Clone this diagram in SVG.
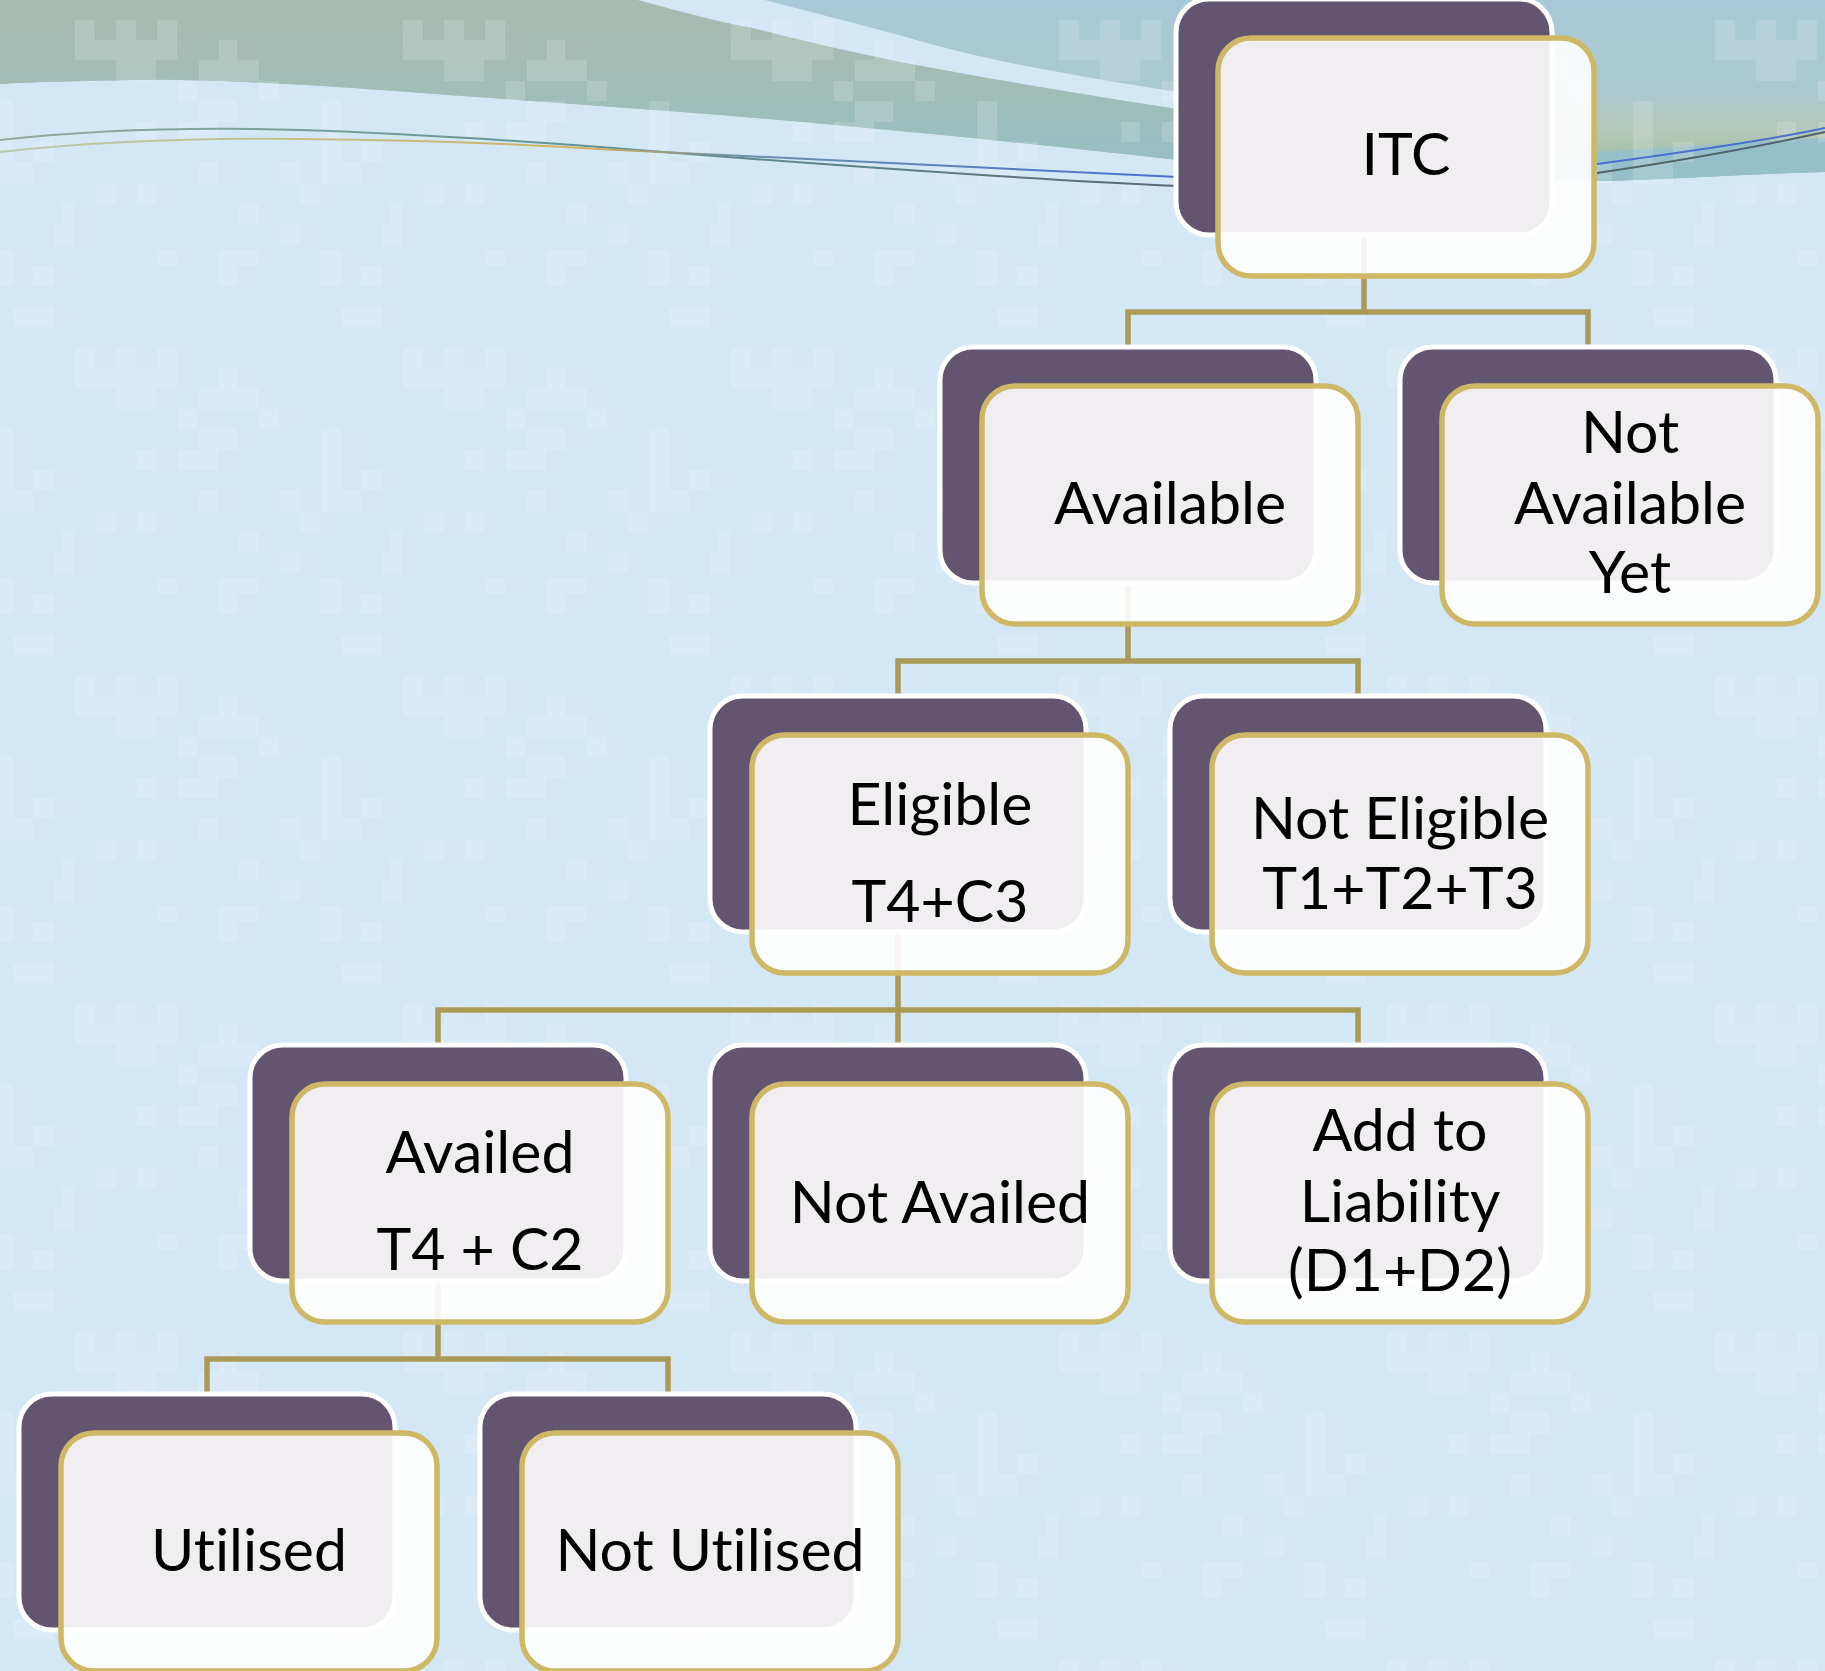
<svg xmlns="http://www.w3.org/2000/svg" xmlns:xlink="http://www.w3.org/1999/xlink" width="1825" height="1671" viewBox="0 0 1825 1671">
  <style>
    .back { fill: #63556f; stroke: #ffffff; stroke-width: 5; }
    .front { fill: #ffffff; fill-opacity: 0.9; stroke: #cfb865; stroke-width: 5.5; }
    .label { font-family: Lato, "Liberation Sans", sans-serif; font-size: 59px; fill: #000000; text-anchor: middle; font-variant-ligatures: none; font-feature-settings: "liga" 0; }
    .conn { fill: none; stroke: #ab9a55; stroke-width: 5.5; stroke-linejoin: miter; }
    .tile { fill: #ffffff; }
  </style>
  <defs>
    <!-- faint pixel texture of the slide background -->
    <pattern id="pix" patternUnits="userSpaceOnUse" x="0" y="250" width="328" height="328">
      <g class="tile">
        <rect x="0" y="0" width="13" height="36"/>
        <rect x="157" y="0" width="20" height="16"/>
        <rect x="219" y="0" width="40" height="16"/>
        <rect x="219" y="16" width="18" height="20"/>
        <rect x="320" y="0" width="8" height="36"/>
        <rect x="33" y="16" width="21" height="20"/>
        <rect x="13" y="57" width="41" height="20"/>
        <rect x="75" y="98" width="20" height="20"/>
        <rect x="116" y="98" width="20" height="20"/>
        <rect x="157" y="98" width="20" height="20"/>
        <rect x="75" y="118" width="102" height="20"/>
        <rect x="116" y="138" width="40" height="21"/>
        <rect x="219" y="118" width="18" height="20"/>
        <rect x="199" y="138" width="60" height="21"/>
        <rect x="178" y="159" width="19" height="20"/>
        <rect x="259" y="159" width="20" height="20"/>
        <rect x="199" y="179" width="38" height="21"/>
        <rect x="178" y="200" width="40" height="20"/>
        <rect x="137" y="200" width="19" height="20"/>
        <rect x="321" y="179" width="7" height="83"/>
        <rect x="0" y="179" width="13" height="83"/>
        <rect x="33" y="220" width="21" height="20"/>
        <rect x="0" y="240" width="33" height="22"/>
        <rect x="199" y="240" width="19" height="22"/>
        <rect x="280" y="240" width="20" height="22"/>
        <rect x="96" y="262" width="20" height="20"/>
        <rect x="137" y="262" width="19" height="20"/>
        <rect x="300" y="262" width="20" height="20"/>
        <rect x="239" y="282" width="20" height="20"/>
        <rect x="62" y="282" width="12" height="20"/>
        <rect x="54" y="302" width="20" height="21"/>
        <rect x="280" y="302" width="20" height="21"/>
      </g>
    </pattern>
    <linearGradient id="bandRight" gradientUnits="userSpaceOnUse" x1="0" y1="0" x2="0" y2="182">
      <stop offset="0" stop-color="#a8c9d7"/>
      <stop offset="0.5" stop-color="#abc9cf"/>
      <stop offset="0.72" stop-color="#b3c8b8"/>
      <stop offset="0.82" stop-color="#a9c3b0"/>
      <stop offset="0.9" stop-color="#97c0c6"/>
      <stop offset="1" stop-color="#93c1cd"/>
    </linearGradient>
    <linearGradient id="bandLeft" gradientUnits="userSpaceOnUse" x1="0" y1="0" x2="0" y2="165">
      <stop offset="0" stop-color="#a8bbb0"/>
      <stop offset="0.55" stop-color="#a1bdb7"/>
      <stop offset="1" stop-color="#97bfc4"/>
    </linearGradient>
    <linearGradient id="lineA" gradientUnits="userSpaceOnUse" x1="0" y1="0" x2="1178" y2="0">
      <stop offset="0" stop-color="#93ab9f"/>
      <stop offset="0.5" stop-color="#5f9494"/>
      <stop offset="1" stop-color="#5c6a72"/>
    </linearGradient>
    <linearGradient id="lineB" gradientUnits="userSpaceOnUse" x1="0" y1="0" x2="1178" y2="0">
      <stop offset="0" stop-color="#b9c9ae"/>
      <stop offset="0.4" stop-color="#c9b873"/>
      <stop offset="0.5" stop-color="#d2b05a"/>
      <stop offset="0.62" stop-color="#6e8fa8"/>
      <stop offset="1" stop-color="#4a6fd0"/>
    </linearGradient>
    <!-- the two stacked cards that make up every node -->
    <g id="card">
      <rect class="back" x="0" y="0" width="376" height="236" rx="33"/>
      <rect class="front" x="42" y="39" width="376" height="238" rx="33"/>
    </g>
  </defs>

  <!-- background -->
  <g id="background">
    <rect x="0" y="0" width="1825" height="1671" fill="#d4e7f5"/>
    <path d="M0,0 H1825 V172 C1740,174 1660,180 1597,181 L1178,160 C1000,140 800,120 600,106 C400,92 250,78 134,80 C80,81 30,82 0,84 Z" fill="url(#bandRight)"/>
    <path d="M0,0 H638 C690,14 720,22 753,28 C800,40 850,52 906,63 C960,73 1010,82 1059,90 C1100,97 1140,103 1178,109 V160 C1000,140 800,120 600,106 C400,92 250,78 134,80 C80,81 30,82 0,84 Z" fill="url(#bandLeft)"/>
    <path d="M638,0 C690,14 720,22 753,28 C800,40 850,52 906,63 C960,73 1010,82 1059,90 C1100,97 1140,103 1178,109 L1178,92 C1140,86 1100,80 1059,72 C1000,62 950,50 906,37 C860,24 810,12 765,0 Z" fill="#d4e7f5"/>
    <path d="M1597,152 C1700,146 1780,140 1825,138 V172 C1740,174 1660,180 1597,181 Z" fill="#95c0c9"/>
    <rect x="0" y="0" width="1825" height="1671" fill="url(#pix)" opacity="0.15"/>
    <path d="M0,140 C100,129 200,127 300,130 C420,134 520,141 600,147 C800,163 1000,178 1178,186" fill="none" stroke="url(#lineA)" stroke-width="2"/>
    <path d="M0,152 C100,141 200,138 300,139 C420,140 520,144 600,149 C800,158 1000,170 1178,177" fill="none" stroke="url(#lineB)" stroke-width="2"/>
    <path d="M1597,164 C1700,150 1780,138 1825,128" fill="none" stroke="#4a6fd0" stroke-width="2"/>
    <path d="M1597,173 C1700,158 1780,142 1825,132" fill="none" stroke="#4f6468" stroke-width="2"/>
  </g>

  <!-- tree connectors -->
  <g id="connectors">
    <path class="conn" d="M1364,236 V312 M1128,347 V312 H1588 V347"/>
    <path class="conn" d="M1128,583 V661 M898,696 V661 H1358 V696"/>
    <path class="conn" d="M898,932 V1010 M438,1045 V1010 H1358 V1045 M898,1010 V1045"/>
    <path class="conn" d="M438,1281 V1359 M207,1394 V1359 H668 V1394"/>
  </g>

  <!-- nodes -->
  <g id="node-itc" transform="translate(1176,-1)">
    <use xlink:href="#card"/>
    <text class="label" x="230" y="176">ITC</text>
  </g>
  <g id="node-available" transform="translate(940,347)">
    <use xlink:href="#card"/>
    <text class="label" x="230" y="177">Available</text>
  </g>
  <g id="node-not-available-yet" transform="translate(1400,347)">
    <use xlink:href="#card"/>
    <text class="label" x="230" y="106">Not</text>
    <text class="label" x="230" y="177">Available</text>
    <text class="label" x="230" y="246">Yet</text>
  </g>
  <g id="node-eligible" transform="translate(710,696)">
    <use xlink:href="#card"/>
    <text class="label" x="230" y="129">Eligible</text>
    <text class="label" x="230" y="226">T4+C3</text>
  </g>
  <g id="node-not-eligible" transform="translate(1170,696)">
    <use xlink:href="#card"/>
    <text class="label" x="230" y="143">Not Eligible</text>
    <text class="label" x="230" y="213">T1+T2+T3</text>
  </g>
  <g id="node-availed" transform="translate(250,1045)">
    <use xlink:href="#card"/>
    <text class="label" x="230" y="128">Availed</text>
    <text class="label" x="230" y="225">T4 + C2</text>
  </g>
  <g id="node-not-availed" transform="translate(710,1045)">
    <use xlink:href="#card"/>
    <text class="label" x="230" y="178">Not Availed</text>
  </g>
  <g id="node-add-to-liability" transform="translate(1170,1045)">
    <use xlink:href="#card"/>
    <text class="label" x="230" y="106">Add to</text>
    <text class="label" x="230" y="177">Liability</text>
    <text class="label" x="230" y="246">(D1+D2)</text>
  </g>
  <g id="node-utilised" transform="translate(19,1394)">
    <use xlink:href="#card"/>
    <text class="label" x="230" y="177">Utilised</text>
  </g>
  <g id="node-not-utilised" transform="translate(480,1394)">
    <use xlink:href="#card"/>
    <text class="label" x="230" y="177">Not Utilised</text>
  </g>
</svg>
